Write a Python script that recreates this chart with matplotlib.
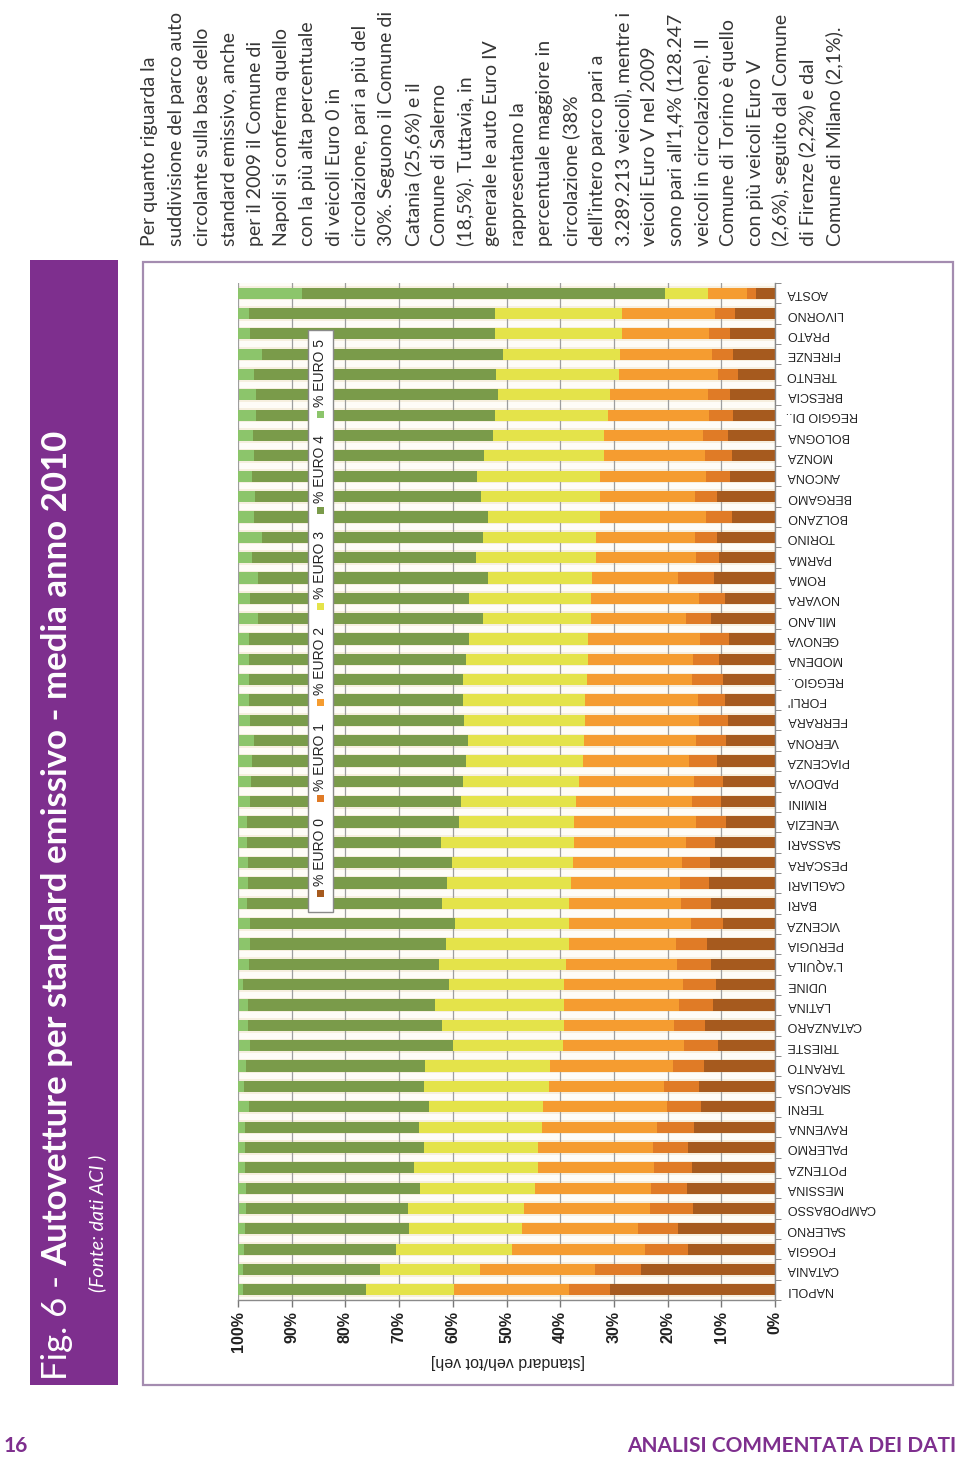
import matplotlib
matplotlib.use("Agg")
import matplotlib.pyplot as plt
from matplotlib.patches import Rectangle
import numpy as np

W, H = 960, 1457

# ---------------- data (top row to bottom row) ----------------
cities = ["AOSTA", "LIVORNO", "PRATO", "FIRENZE", "TRENTO", "BRESCIA", "REGGIO DI..", "BOLOGNA", "MONZA", "ANCONA",
          "BERGAMO", "BOLZANO", "TORINO", "PARMA", "ROMA", "NOVARA", "MILANO", "GENOVA", "MODENA", "REGGIO..",
          "FORLI'", "FERRARA", "VERONA", "PIACENZA", "PADOVA", "RIMINI", "VENEZIA", "SASSARI", "PESCARA", "CAGLIARI",
          "BARI", "VICENZA", "PERUGIA", "L'AQUILA", "UDINE", "LATINA", "CATANZARO", "TRIESTE", "TARANTO", "SIRACUSA",
          "TERNI", "RAVENNA", "PALERMO", "POTENZA", "MESSINA", "CAMPOBASSO", "SALERNO", "FOGGIA", "CATANIA", "NAPOLI"]

euro0 = [3.5, 7.5, 8.4, 7.9, 6.9, 8.3, 7.9, 8.8, 8.1, 8.3,
         10.8, 8.1, 10.8, 10.5, 11.4, 9.4, 11.9, 8.5, 10.5, 9.7,
         9.4, 8.8, 9.1, 10.8, 9.7, 10.1, 9.1, 11.2, 12.1, 12.3,
         11.9, 9.7, 12.7, 11.9, 10.9, 11.6, 13.1, 10.6, 13.3, 14.1,
         13.8, 15.1, 16.2, 15.5, 16.3, 15.2, 18.0, 16.2, 25.0, 30.7]
euro1 = [1.7, 3.7, 3.8, 3.9, 3.8, 4.2, 4.4, 4.6, 5.0, 4.6,
         4.1, 4.8, 4.1, 4.3, 6.6, 4.8, 4.6, 5.5, 4.8, 5.7,
         5.0, 5.4, 5.7, 5.2, 5.4, 5.4, 5.6, 5.4, 5.2, 5.4,
         5.6, 6.0, 5.7, 6.3, 6.2, 6.3, 5.7, 6.3, 5.7, 6.5,
         6.4, 6.8, 6.6, 7.1, 6.7, 8.1, 7.5, 8.0, 8.5, 7.6]
euro2 = [7.2, 17.3, 16.3, 17.1, 18.3, 18.2, 18.8, 18.4, 18.7, 19.6,
         17.7, 19.7, 18.4, 18.6, 16.0, 20.0, 17.8, 20.8, 19.5, 19.7,
         21.0, 21.2, 20.7, 19.8, 21.4, 21.5, 22.7, 20.8, 20.3, 20.3,
         20.8, 22.6, 20.0, 20.8, 22.2, 21.4, 20.5, 22.6, 22.9, 21.5,
         23.0, 21.4, 21.4, 21.6, 21.6, 23.4, 21.6, 24.7, 21.5, 21.4]
euro3 = [8.0, 23.7, 23.6, 21.7, 22.9, 20.8, 21.1, 20.7, 22.3, 23.0,
         22.2, 20.8, 21.1, 22.2, 19.4, 22.7, 20.1, 22.2, 22.7, 23.0,
         22.7, 22.5, 21.7, 21.7, 21.6, 21.4, 21.5, 24.8, 22.5, 23.1,
         23.8, 21.2, 22.8, 23.6, 21.4, 24.0, 22.8, 20.4, 23.2, 23.2,
         21.2, 23.0, 21.2, 23.1, 21.6, 21.7, 21.1, 21.7, 18.5, 16.4]
euro4 = [67.6, 45.7, 45.7, 45.0, 45.1, 45.2, 44.5, 44.7, 42.9, 41.8,
         42.0, 43.7, 41.2, 41.7, 42.8, 40.9, 41.8, 40.9, 40.4, 39.8,
         39.8, 39.8, 39.8, 39.8, 39.5, 39.4, 39.4, 36.1, 38.1, 37.0,
         36.2, 38.3, 36.5, 35.3, 38.3, 34.8, 36.1, 37.8, 33.5, 33.5,
         33.5, 32.4, 33.3, 31.4, 32.3, 30.2, 30.5, 28.2, 25.5, 22.9]
euro5 = [12.0, 2.1, 2.3, 4.4, 3.0, 3.2, 3.3, 2.8, 3.0, 2.7,
         3.2, 3.0, 4.4, 2.8, 3.7, 2.3, 3.7, 2.2, 2.2, 2.2,
         2.2, 2.2, 2.9, 2.7, 2.4, 2.2, 2.2, 1.7, 1.9, 1.9,
         1.7, 2.2, 2.2, 2.2, 2.2, 1.7, 1.8, 2.2, 1.5, 1.5,
         2.1, 1.3, 1.3, 1.3, 1.5, 1.3, 1.3, 1.2, 1.0, 1.0]

series_labels = ["% EURO 0", "% EURO 1", "% EURO 2", "% EURO 3", "% EURO 4", "% EURO 5"]
xticks = [0, 10, 20, 30, 40, 50, 60, 70, 80, 90, 100]
xtick_labels = ["0%", "10%", "20%", "30%", "40%", "50%", "60%", "70%", "80%", "90%", "100%"]
axis_label = "[standard veh/tot veh]"

title_a = "Fig. 6 - "
title_b = "Autovetture per standard emissivo - media anno 2010"
subtitle = "(Fonte: dati ACI )"
paragraph = [
    "Per quanto riguarda la",
    "suddivisione del parco auto",
    "circolante sulla base dello",
    "standard emissivo, anche",
    "per il 2009 il Comune di",
    "Napoli si conferma quello",
    "con la più alta percentuale",
    "di veicoli Euro 0 in",
    "circolazione, pari a più del",
    "30%. Seguono il Comune di",
    "Catania (25,6%) e il",
    "Comune di Salerno",
    "(18,5%). Tuttavia, in",
    "generale le auto Euro IV",
    "rappresentano la",
    "percentuale maggiore in",
    "circolazione (38%",
    "dell’intero parco pari a",
    "3.289.213 veicoli), mentre i",
    "veicoli Euro V nel 2009",
    "sono pari all’1,4% (128.247",
    "veicoli in circolazione). Il",
    "Comune di Torino è quello",
    "con più veicoli Euro V",
    "(2,6%), seguito dal Comune",
    "di Firenze (2,2%) e dal",
    "Comune di Milano (2,1%).",
]
footer_left = "16"
footer_right = "ANALISI COMMENTATA DEI DATI"

# ---------------- styles ----------------
colors = ["#A65A1E", "#E07B26", "#F59C30", "#E4E34A", "#7A9B4A", "#8CC56B"]
PURPLE = "#7E2F8E"
FRAME = "#A48CB0"
TEXTC = "#363636"

fig = plt.figure(figsize=(W / 100, H / 100), dpi=100)
fig.patch.set_facecolor("white")


def fx(x):
    return x / W


def fy(y):
    return 1 - y / H


# purple title band
fig.patches.append(Rectangle((fx(30), fy(1385)), (118 - 30) / W, (1385 - 260) / H,
                             transform=fig.transFigure, facecolor=PURPLE, edgecolor="none", zorder=-2))
# chart frame
fig.patches.append(Rectangle((fx(143), fy(1385)), (953 - 143) / W, (1385 - 262) / H,
                             transform=fig.transFigure, facecolor="none", edgecolor=FRAME, lw=1.6, zorder=-1))

# ---------------- axes ----------------
ax = fig.add_axes([fx(238), fy(1300), (775 - 238) / W, (1300 - 283) / H])
ax.set_facecolor("#FEFCF7")
ypos = np.arange(len(cities))
# cream halo band behind each row
ax.barh(ypos, 100, left=0, height=0.7, color="#F6EFDF", edgecolor="none", zorder=1)
left = np.zeros(len(cities))
for vals, col, lab in zip([euro0, euro1, euro2, euro3, euro4, euro5], colors, series_labels):
    v = np.array(vals)
    ax.barh(ypos, v, left=left, height=0.55, color=col, edgecolor="none", zorder=2, label=lab)
    left += v

ax.set_xlim(100, 0)
ax.set_ylim(len(cities) - 0.5, -0.5)
ax.set_xticks(xticks)
ax.set_xticklabels(xtick_labels, rotation=90, fontsize=11.5, fontweight="bold",
                   family="Liberation Sans", color="#222222")
ax.set_axisbelow("line")
ax.xaxis.grid(True, color="#9E9E9E", lw=0.9)
ax.tick_params(axis="x", direction="out", length=5, color="#777777", width=1, pad=3)

ax.yaxis.tick_right()
ax.set_yticks(ypos)
ax.set_yticklabels(cities, rotation=180, ha="left", va="center", fontsize=9,
                   family="Liberation Sans", color="#222222")
ax.tick_params(axis="y", which="major", length=0, pad=8)
ax.set_yticks(np.arange(-0.5, len(cities), 1.0), minor=True)
ax.tick_params(axis="y", which="minor", length=4, color="#777777", direction="out")
for s in ["left", "top"]:
    ax.spines[s].set_visible(False)
for s in ["right", "bottom"]:
    ax.spines[s].set_color("#8A8A8A")
    ax.spines[s].set_linewidth(1.0)
    ax.spines[s].set_zorder(3)

fig.text(fx(508), fy(1362), axis_label, rotation=180, ha="center", va="center",
         fontsize=11.5, family="Liberation Sans", color="#222222")

# ---------------- legend (rotated) ----------------
fig.patches.append(Rectangle((fx(308), fy(912)), (333 - 308) / W, (912 - 330) / H,
                             transform=fig.transFigure, facecolor="white", edgecolor="#8A8A8A",
                             lw=1.0, zorder=5))
marker_y = [893, 798, 702, 606, 510, 414]
for lab, col, my in zip(series_labels, colors, marker_y):
    fig.patches.append(Rectangle((fx(317), fy(my + 3.5)), 7 / W, 7 / H, transform=fig.transFigure,
                                 facecolor=col, edgecolor="none", zorder=6))
    fig.text(fx(320.5), fy(my - 7), lab, rotation=90, ha="center", va="bottom", fontsize=10,
             family="Liberation Sans", color="#222222", zorder=6)

# ---------------- title band text ----------------
renderer = fig.canvas.get_renderer()
t1 = fig.text(fx(57), fy(1380), title_a, rotation=90, ha="center", va="bottom",
              fontsize=25, family="Lato", color="white")
ext = t1.get_window_extent(renderer)
fig.text(fx(57), (ext.y1) / H, title_b, rotation=90, ha="center", va="bottom",
         fontsize=25, family="Lato", fontweight="bold", color="white")
fig.text(fx(97), fy(1292), subtitle, rotation=90, ha="center", va="bottom",
         fontsize=14, family="Lato", style="italic", color="white")

# ---------------- paragraph ----------------
x0, x1 = 150, 834
n = len(paragraph)
for i, line in enumerate(paragraph):
    xc = x0 + (x1 - x0) * i / (n - 1)
    fig.text(fx(xc), fy(246), line, rotation=90, ha="center", va="bottom",
             fontsize=14, family="Lato", color=TEXTC)

# ---------------- footer ----------------
fig.text(fx(4), fy(1446), footer_left, ha="left", va="center", fontsize=15,
         family="Lato", fontweight="bold", color=PURPLE)
fig.text(fx(956), fy(1446), footer_right, ha="right", va="center", fontsize=15,
         family="Lato", fontweight="bold", color=PURPLE)

fig.savefig("out.png", dpi=100)
